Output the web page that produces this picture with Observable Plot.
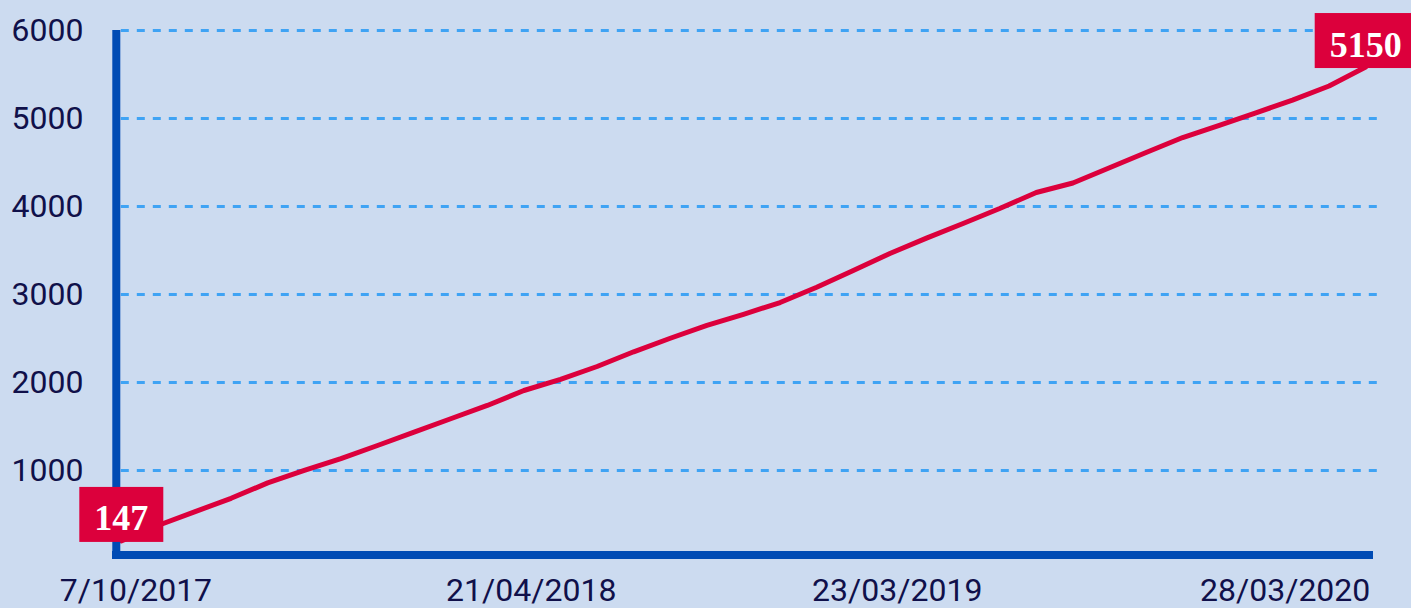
<!DOCTYPE html>
<html>
<head>
<meta charset="utf-8">
<script src="https://cdn.jsdelivr.net/npm/d3@7"></script>
<script src="https://cdn.jsdelivr.net/npm/@observablehq/plot@0.6"></script>
<style>
  html, body { margin: 0; padding: 0; background: #CCDBF0; overflow: hidden; }
</style>
</head>
<body>
<div id="chart"></div>
<script>
// ---- data ----
const values = [200, 375, 530, 684, 859, 1001, 1136, 1284, 1436, 1588,
                1739, 1909, 2035, 2182, 2349, 2503, 2648, 2775, 2909, 3082,
                3272, 3466, 3641, 3807, 3977, 4159, 4267, 4440, 4614, 4784,
                4923, 5065, 5208, 5369, 5585];
const tickLabels = ["7/10/2017", "21/04/2018", "23/03/2019", "28/03/2020"];
const tickIndex = [0.4, 11.2, 21.2, 31.8];
const yTicks = [1000, 2000, 3000, 4000, 5000, 6000];
const endLabels = ["147", "5150"];

// ---- tables built from the arrays ----
const series = values.map((v, i) => ({i, v}));
const ends = [
  {i: 0, v: values[0], label: endLabels[0]},
  {i: values.length - 1, v: values[values.length - 1], label: endLabels[1]}
];
const tickMap = new Map(tickIndex.map((t, k) => [t, tickLabels[k]]));

const axisBlue = "#004BB4";
const red = "#DC003C";

const svg = Plot.plot({
  width: 1411,
  height: 608,
  marginTop: 30,
  marginBottom: 50,
  marginLeft: 112,
  marginRight: 38,
  style: {background: "#CCDBF0", color: "#10104A", fontFamily: "Roboto", fontSize: "32px", overflow: "hidden"},
  x: {domain: [0, values.length - 1], range: [120.8, 1365.2], label: null},
  y: {domain: [0, 6000], label: null},
  marks: [
    Plot.ruleY(yTicks, {x1: 0, x2: values.length - 0.5, stroke: "#3FA3F4", strokeWidth: 3, strokeDasharray: "8,8"}),
    Plot.line(series, {x: "i", y: "v", stroke: red, strokeWidth: 5, strokeLinejoin: "round"}),
    Plot.ruleX([0], {dx: -5, y1: 0, y2: 6000, insetTop: -5, stroke: axisBlue, strokeWidth: 8}),
    Plot.ruleY([0], {dy: -3.5, stroke: axisBlue, strokeWidth: 8}),
    Plot.axisY({ticks: yTicks, tickSize: 0, tickPadding: 29, label: null, tickFormat: d => String(d)}),
    Plot.axisX({ticks: tickIndex, tickSize: 0, tickPadding: 20, label: null, tickFormat: d => tickMap.get(d)}),
    Plot.text(ends, {x: "i", y: "v", text: "label", dy: -22, fill: "white",
      fontFamily: "Liberation Serif", fontWeight: "bold", fontSize: 36})
  ]
});
document.getElementById("chart").append(svg);

// boxes behind the end labels
const ns = "http://www.w3.org/2000/svg";
Array.from(svg.querySelectorAll("text"))
  .filter(t => endLabels.includes(t.textContent))
  .forEach(t => {
    const b = t.getBBox();
    const cy = b.y + b.height / 2;
    const r = document.createElementNS(ns, "rect");
    r.setAttribute("x", b.x - 15);
    r.setAttribute("width", b.width + 30);
    r.setAttribute("y", cy - 4 - 27.5);
    r.setAttribute("height", 55);
    r.setAttribute("fill", red);
    if (t.getAttribute("transform")) r.setAttribute("transform", t.getAttribute("transform"));
    t.parentNode.insertBefore(r, t);
  });
</script>
</body>
</html>
